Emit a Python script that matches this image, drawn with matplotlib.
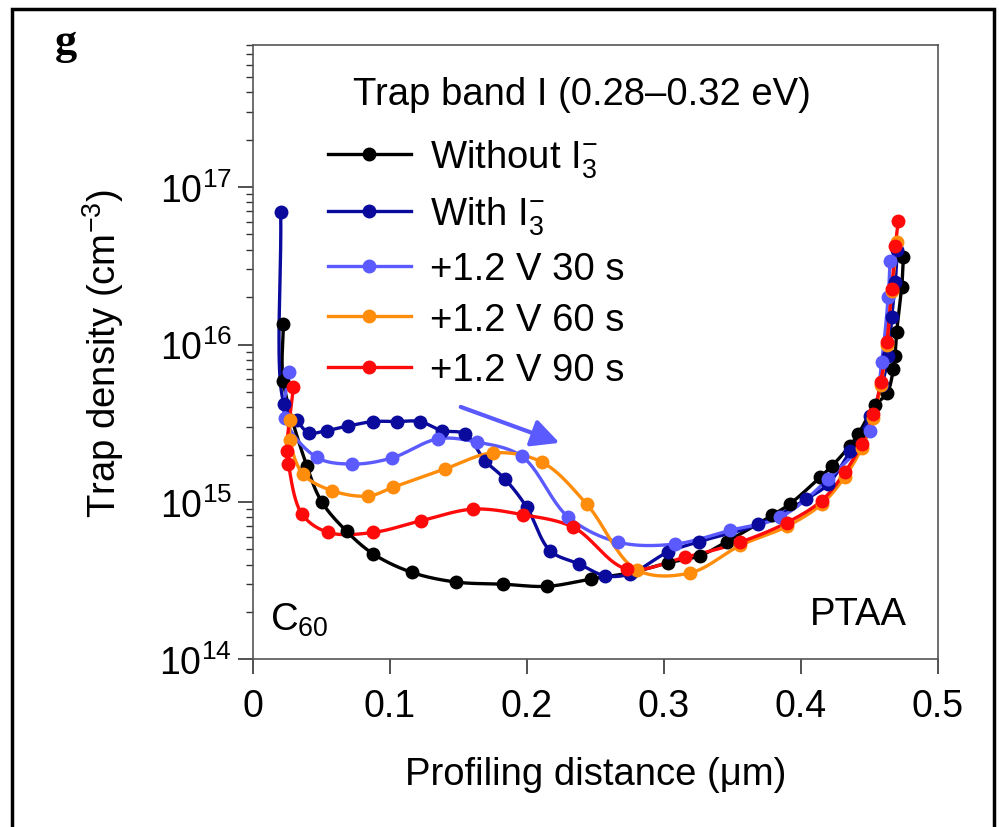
import numpy as np
import matplotlib
matplotlib.use("Agg")
import matplotlib.pyplot as plt
from matplotlib.lines import Line2D
from matplotlib.patches import Rectangle
from matplotlib.ticker import LogLocator, NullFormatter

plt.rcParams['font.family'] = ['Liberation Sans', 'DejaVu Sans']
plt.rcParams['mathtext.fontset'] = 'custom'
plt.rcParams['mathtext.rm'] = 'Liberation Sans'
plt.rcParams['mathtext.it'] = 'Liberation Sans:italic'

# data (x in um, trap density in cm^-3)
black_x = [0.0223, 0.0223, 0.0394, 0.0504, 0.0686, 0.088, 0.116, 0.148, 0.183, 0.215,
           0.247, 0.277, 0.303, 0.3265, 0.346, 0.379, 0.392, 0.414, 0.423, 0.436, 0.442,
           0.454, 0.463, 0.4676, 0.4688, 0.470, 0.4737, 0.4749]
black_y = [1.35e16, 5.9e15, 1.70e15, 1.0e15, 6.5e14, 4.67e14, 3.57e14, 3.1e14, 3.0e14, 2.91e14,
           3.24e14, 3.57e14, 4.1e14, 4.56e14, 5.6e14, 8.2e14, 9.7e14, 1.43e15, 1.70e15, 2.28e15, 2.7e15,
           4.1e15, 4.9e15, 7.0e15, 8.5e15, 1.2e16, 2.32e16, 3.6e16]

navy_x = [0.0204, 0.0229, 0.032, 0.041, 0.054, 0.0698, 0.088, 0.105, 0.122, 0.138, 0.155,
          0.1695, 0.184, 0.200, 0.217, 0.238, 0.257, 0.275, 0.303, 0.326, 0.369, 0.404, 0.420,
          0.436, 0.4507, 0.459, 0.464, 0.4664, 0.469, 0.4705]
navy_y = [6.95e16, 4.2e15, 3.3e15, 2.75e15, 2.84e15, 3.04e15, 3.24e15, 3.24e15, 3.24e15, 2.84e15, 2.7e15,
          1.83e15, 1.40e15, 9.25e14, 4.9e14, 4.04e14, 3.4e14, 3.48e14, 4.8e14, 5.6e14, 7.2e14, 1.04e15, 1.3e15,
          2.1e15, 3.5e15, 5.5e15, 8.5e15, 1.5e16, 2.5e16, 4.0e16]

lb_x = [0.0267, 0.0235, 0.0467, 0.0726, 0.1014, 0.1355, 0.1635, 0.1963, 0.2304, 0.2669,
        0.3082, 0.3484, 0.385, 0.420, 0.4507, 0.459, 0.4638, 0.4652]
lb_y = [6.7e15, 3.4e15, 1.92e15, 1.74e15, 1.9e15, 2.52e15, 2.4e15, 1.95e15, 8.0e14, 5.55e14,
        5.4e14, 6.6e14, 8.0e14, 1.4e15, 2.84e15, 7.7e15, 2.0e16, 3.4e16]

or_x = [0.0272, 0.0272, 0.0365, 0.0577, 0.0844, 0.1026, 0.1403, 0.1756, 0.211, 0.2437,
        0.2803, 0.3192, 0.356, 0.390, 0.4153, 0.4323, 0.4445, 0.453, 0.4584, 0.4628, 0.4664, 0.4705]
or_y = [3.3e15, 2.46e15, 1.51e15, 1.18e15, 1.09e15, 1.24e15, 1.62e15, 2.05e15, 1.79e15, 9.7e14,
        3.7e14, 3.54e14, 5.3e14, 7.0e14, 9.7e14, 1.45e15, 2.2e15, 3.4e15, 5.5e15, 1.0e16, 2.2e16, 4.5e16]

red_x = [0.0297, 0.0248, 0.026, 0.0358, 0.0552, 0.088, 0.123, 0.161, 0.197, 0.234, 0.273,
         0.3155, 0.3557, 0.390, 0.4153, 0.4323, 0.4445, 0.453, 0.4584, 0.4628, 0.4664, 0.469, 0.4712]
red_y = [5.4e15, 2.12e15, 1.75e15, 8.4e14, 6.4e14, 6.4e14, 7.6e14, 9.0e14, 8.3e14, 6.9e14, 3.75e14,
         4.45e14, 5.55e14, 7.4e14, 1.02e15, 1.55e15, 2.34e15, 3.6e15, 5.8e15, 1.03e16, 2.26e16, 4.2e16, 6.1e16]

labels = ['Without I$_3^{-}$', 'With I$_3^{-}$', '+1.2 V 30 s', '+1.2 V 60 s', '+1.2 V 90 s']
colors = ['black', '#0a0a9c', '#5a5aff', '#ff8c0a', '#ff0a0a']
xticks = [0, 0.1, 0.2, 0.3, 0.4, 0.5]
xtick_labels = ['0', '0.1', '0.2', '0.3', '0.4', '0.5']
legend_title = 'Trap band I (0.28\u20130.32 eV)'


def smooth(x, y, n=24):
    # centripetal Catmull-Rom through the points, in (x, log y) with screen-like scaling
    pts = np.column_stack([np.asarray(x) / 0.5 * 685, np.log10(y) * 157.3])
    p = np.vstack([2 * pts[0] - pts[1], pts, 2 * pts[-1] - pts[-2]])
    out = []
    for i in range(1, len(p) - 2):
        p0, p1, p2, p3 = p[i - 1], p[i], p[i + 1], p[i + 2]
        t0 = 0.0
        t1 = t0 + max(np.linalg.norm(p1 - p0), 1e-6) ** 0.5
        t2 = t1 + max(np.linalg.norm(p2 - p1), 1e-6) ** 0.5
        t3 = t2 + max(np.linalg.norm(p3 - p2), 1e-6) ** 0.5
        t = np.linspace(t1, t2, n)[:, None]
        a1 = (t1 - t) / (t1 - t0) * p0 + (t - t0) / (t1 - t0) * p1
        a2 = (t2 - t) / (t2 - t1) * p1 + (t - t1) / (t2 - t1) * p2
        a3 = (t3 - t) / (t3 - t2) * p2 + (t - t2) / (t3 - t2) * p3
        b1 = (t2 - t) / (t2 - t0) * a1 + (t - t0) / (t2 - t0) * a2
        b2 = (t3 - t) / (t3 - t1) * a2 + (t - t1) / (t3 - t1) * a3
        c = (t2 - t) / (t2 - t1) * b1 + (t - t1) / (t2 - t1) * b2
        out.append(c)
    c = np.vstack(out)
    return c[:, 0] / 685 * 0.5, 10 ** (c[:, 1] / 157.3)


fig = plt.figure(figsize=(9.99, 8.28), dpi=100)
ax = fig.add_axes([0.253, 0.2025, 0.6857, 0.742])

series = [(black_x, black_y), (navy_x, navy_y), (lb_x, lb_y), (or_x, or_y), (red_x, red_y)]
for (sx, sy), c in zip(series, colors):
    cx, cy = smooth(sx, sy)
    ax.plot(cx, cy, color=c, lw=2.4, zorder=2)
    ax.plot(sx, sy, 'o', color=c, ms=9, zorder=3)

ax.set_yscale('log')
ax.set_xlim(0, 0.5)
ax.set_ylim(1e14, 8.0e17)
ax.set_xticks(xticks)
ax.set_xticklabels(xtick_labels)
ax.set_yticks([1e14, 1e15, 1e16, 1e17])
ax.yaxis.set_minor_locator(LogLocator(base=10, subs=np.arange(2, 10)))
ax.yaxis.set_minor_formatter(NullFormatter())
ax.tick_params(which='major', direction='out', length=11, width=1.2, labelsize=27, pad=4, color='#333333')
ax.tick_params(which='minor', direction='out', length=5, width=1.0, color='#333333')
ax.tick_params(axis='x', which='major', pad=10)
for s in ax.spines.values():
    s.set_color('#555555')
    s.set_linewidth(1.2)

ax.set_xlabel('Profiling distance (\u03bcm)', fontsize=27.5, labelpad=23)
ax.set_ylabel('Trap density (cm$^{-3}$)', fontsize=27.5, labelpad=24)

ax.annotate('', xy=(0.2258, 2.34e15), xytext=(0.1499, 4.07e15),
            arrowprops=dict(arrowstyle='-|>', color='#5a5aff', lw=3, mutation_scale=42))

ax.text(0.025, 0.035, 'C$_{60}$', transform=ax.transAxes, fontsize=27.5, ha='left', va='bottom')
ax.text(0.955, 0.045, 'PTAA', transform=ax.transAxes, fontsize=27.5, ha='right', va='bottom')

ax.text(0.481, 0.920, legend_title, transform=ax.transAxes, fontsize=27.5, ha='center', va='center')
handles = [Line2D([], [], color=c, lw=2.4, marker='o', ms=9) for c in colors]
leg = ax.legend(handles, labels, loc='upper left', bbox_to_anchor=(0.11, 0.850), frameon=False,
                fontsize=27.5, handlelength=2.16, handletextpad=0.5,
                labelspacing=0.38, borderpad=0, borderaxespad=0)

fig.text(0.055, 0.948, 'g', fontfamily='Liberation Serif', fontweight='bold', fontsize=32,
         ha='left', va='center')
fig.patches.append(Rectangle((12 / 999, -0.1), (994 - 12) / 999, 1.1 - 10 / 828,
                             transform=fig.transFigure, fill=False, lw=2.5, ec='black'))

fig.savefig('out.png', dpi=100)
